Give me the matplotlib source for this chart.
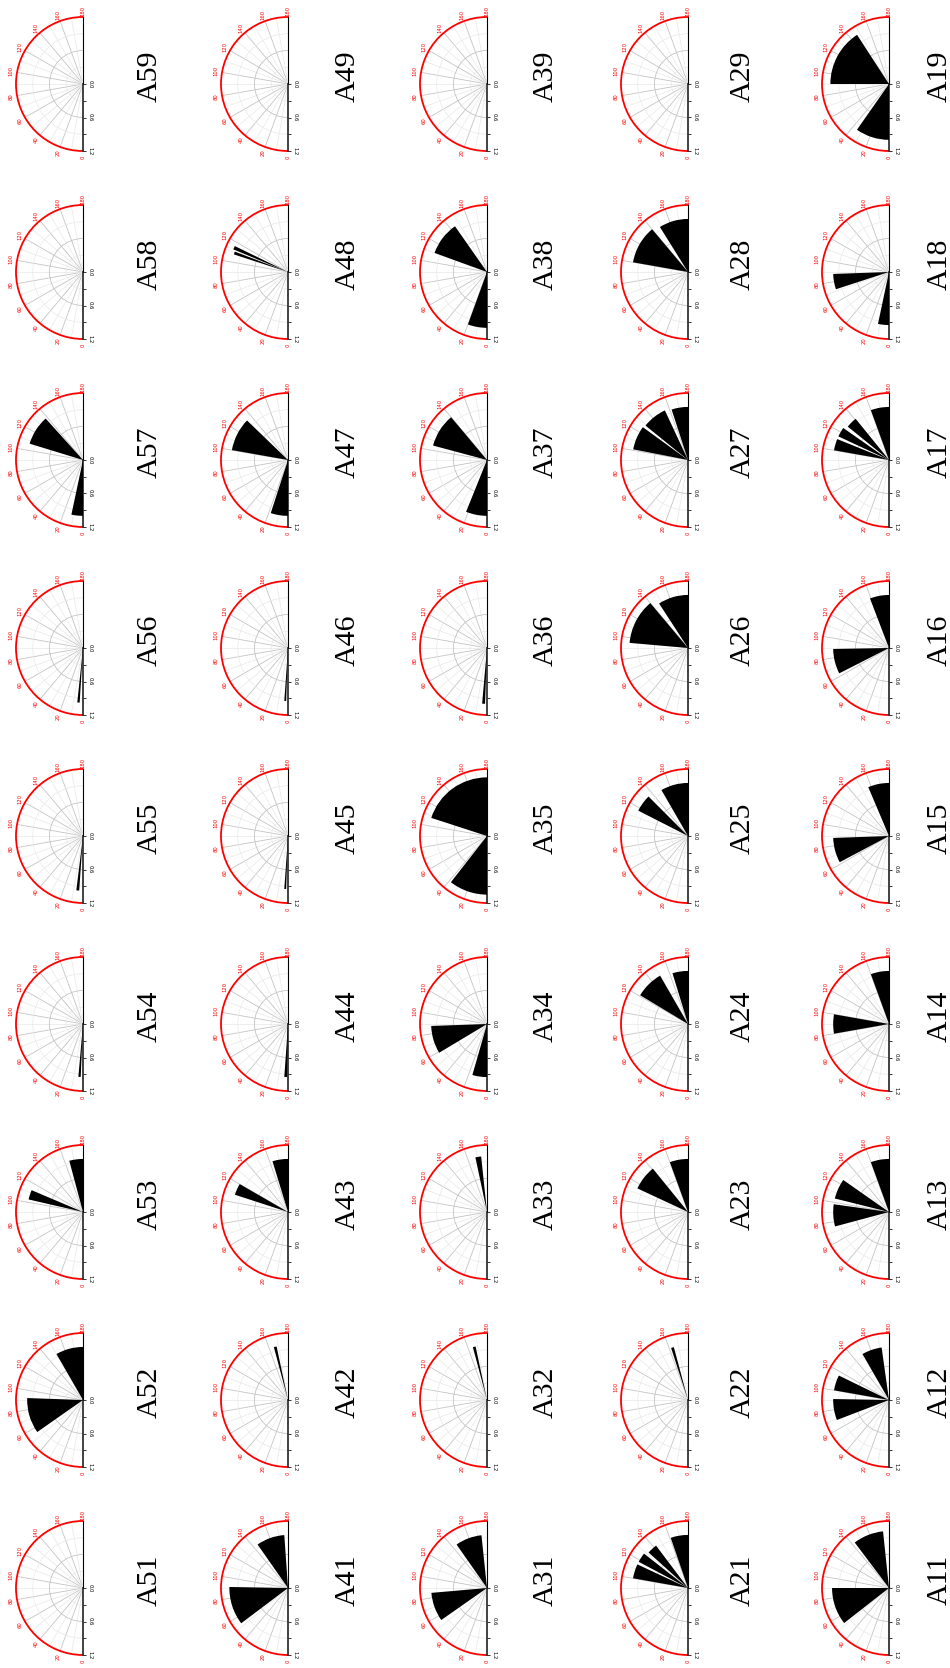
import numpy as np
import matplotlib.pyplot as plt

# Panel names, one column of the grid per tens digit (top to bottom)
panel_names = ['A59', 'A58', 'A57', 'A56', 'A55', 'A54', 'A53', 'A52', 'A51',
               'A49', 'A48', 'A47', 'A46', 'A45', 'A44', 'A43', 'A42', 'A41',
               'A39', 'A38', 'A37', 'A36', 'A35', 'A34', 'A33', 'A32', 'A31',
               'A29', 'A28', 'A27', 'A26', 'A25', 'A24', 'A23', 'A22', 'A21',
               'A19', 'A18', 'A17', 'A16', 'A15', 'A14', 'A13', 'A12', 'A11']

# Orientation sectors of each panel: start angle, end angle (deg) and length
wedge_start = [
    [], [], [0, 107], [3.5], [4], [2.5], [103, 165], [55, 150], [],
    [], [108, 112.5], [0, 100], [2], [2], [1], [108, 163], [165], [53, 145],
    [], [0, 110], [0, 105], [2], [0, 108], [0, 59], [168], [165], [55, 145],
    [], [100, 148], [101, 129, 162], [95, 147], [117, 150], [121, 163], [115, 160], [162], [100, 118, 132, 161],
    [0, 90], [0, 72], [100, 115, 129, 160], [63, 159], [62, 157], [80, 160], [75, 104, 160], [69, 100, 150], [52, 143],
]
wedge_end = [
    [], [], [12, 138], [6], [7], [5], [113, 180], [92, 180], [],
    [], [111, 116], [18, 134], [4], [4], [4], [120, 180], [168], [91, 176],
    [], [20, 145], [22, 140], [5], [38, 180], [16, 88], [174], [168], [85, 174],
    [], [140, 180], [126, 155, 180], [140, 180], [135, 180], [150, 180], [141, 180], [165], [115, 128, 143, 180],
    [35, 147], [12, 88], [112, 125, 141, 180], [89, 180], [88, 180], [100, 180], [98, 125, 180], [91, 116, 172], [90, 174],
]
wedge_r = [
    [], [], [1.0, 1.0], [0.98], [0.98], [0.95], [1.0, 0.95], [1.0, 0.95], [],
    [], [1.02, 1.06], [1.0, 1.02], [0.95], [0.95], [0.95], [1.0, 0.95], [0.98], [1.05, 0.95],
    [], [1.0, 1.0], [1.0, 1.0], [1.0], [1.05, 1.05], [0.95, 1.0], [1.0], [0.98], [1.0, 0.95],
    [], [1.0, 0.95], [1.0, 0.98, 0.95], [1.05, 0.95], [1.0, 0.95], [1.0, 0.95], [1.0, 0.95], [0.98], [1.0, 1.0, 0.95, 0.95],
    [1.0, 1.05], [0.95, 1.0], [1.0, 1.0, 0.95, 0.95], [1.0, 0.95], [1.0, 0.95], [1.0, 0.95], [1.0, 1.0, 0.95], [1.0, 1.0, 0.95], [1.02, 1.02],
]

angle_ticks = [0, 20, 40, 60, 80, 100, 120, 140, 160, 180]
radius_ticks = [0.0, 0.6, 1.2]

W, H = 950, 1668
fig = plt.figure(figsize=(W / 100, H / 100), dpi=100)

# pixel layout of the grid
centre_x = [83, 288, 487, 688, 889]
label_x = [150, 348, 546, 743, 940]
row_y0, row_step = 84, 188
R = 67  # pixel radius of r = 1.2

for k, name in enumerate(panel_names):
    col, row = divmod(k, 9)
    cx = centre_x[col]
    cy = row_y0 + row * row_step

    # square box; the half disc sits in its middle with the flat side at cx
    ax = fig.add_axes([(cx - 1.5 * R) / W, 1 - (cy + R) / H, 2 * R / W, 2 * R / H],
                      projection='polar')
    ax.set_theta_zero_location('S')
    ax.set_theta_direction(-1)
    ax.set_thetamin(0)
    ax.set_thetamax(180)
    ax.set_ylim(0, 1.2)

    ax.set_xticks(np.deg2rad(angle_ticks))
    ax.set_xticks(np.deg2rad(np.arange(10, 180, 20)), minor=True)
    ax.set_xticklabels([])
    ax.set_yticks([0.6])
    ax.set_yticks([0.3, 0.9], minor=True)
    ax.set_yticklabels([])
    ax.tick_params(axis='x', which='major', colors='red', length=2.5, width=0.7, direction='inout')
    ax.tick_params(axis='x', which='minor', colors='red', length=1.5, width=0.5, direction='inout')
    ax.tick_params(axis='y', which='both', length=0)

    ax.grid(which='major', color='#c4c4c4', lw=0.6)
    ax.grid(which='minor', color='#e8e8e8', lw=0.5)
    ax.set_axisbelow(True)

    ax.spines['polar'].set_color('red')
    ax.spines['polar'].set_linewidth(1.3)
    ax.spines['start'].set_color('#333333')
    ax.spines['start'].set_linewidth(1.3)
    ax.spines['end'].set_visible(False)
    ax.spines['inner'].set_visible(False)

    # sectors
    s = np.array(wedge_start[k], dtype=float)
    e = np.array(wedge_end[k], dtype=float)
    r = np.array(wedge_r[k], dtype=float)
    if len(s):
        ax.bar(np.deg2rad((s + e) / 2), r, width=np.deg2rad(e - s), bottom=0,
               color='black', edgecolor='none', zorder=3)

    # angle labels outside the arc
    for a in angle_ticks:
        ax.text(np.deg2rad(a), 1.31, str(a), color='red', fontsize=3.8,
                rotation=90, ha='center', va='center', clip_on=False)

    # radial axis ticks and labels
    ax.plot([0] * 5, [0, 0.3, 0.6, 0.9, 1.2], ls='none', marker=1, ms=2.5,
            mew=0.7, color='#333333', clip_on=False, zorder=4)
    for rv in radius_ticks:
        ax.annotate(f'{rv:.1f}', xy=(0, rv), xytext=(5, 0), textcoords='offset points',
                    fontsize=3.8, rotation=-90, ha='center', va='center',
                    annotation_clip=False)

    fig.text(label_x[col] / W, 1 - (cy - 8) / H, name, rotation=90,
             fontsize=21.5, family='Liberation Serif', ha='center', va='center')

fig.savefig('out.png', dpi=100)
